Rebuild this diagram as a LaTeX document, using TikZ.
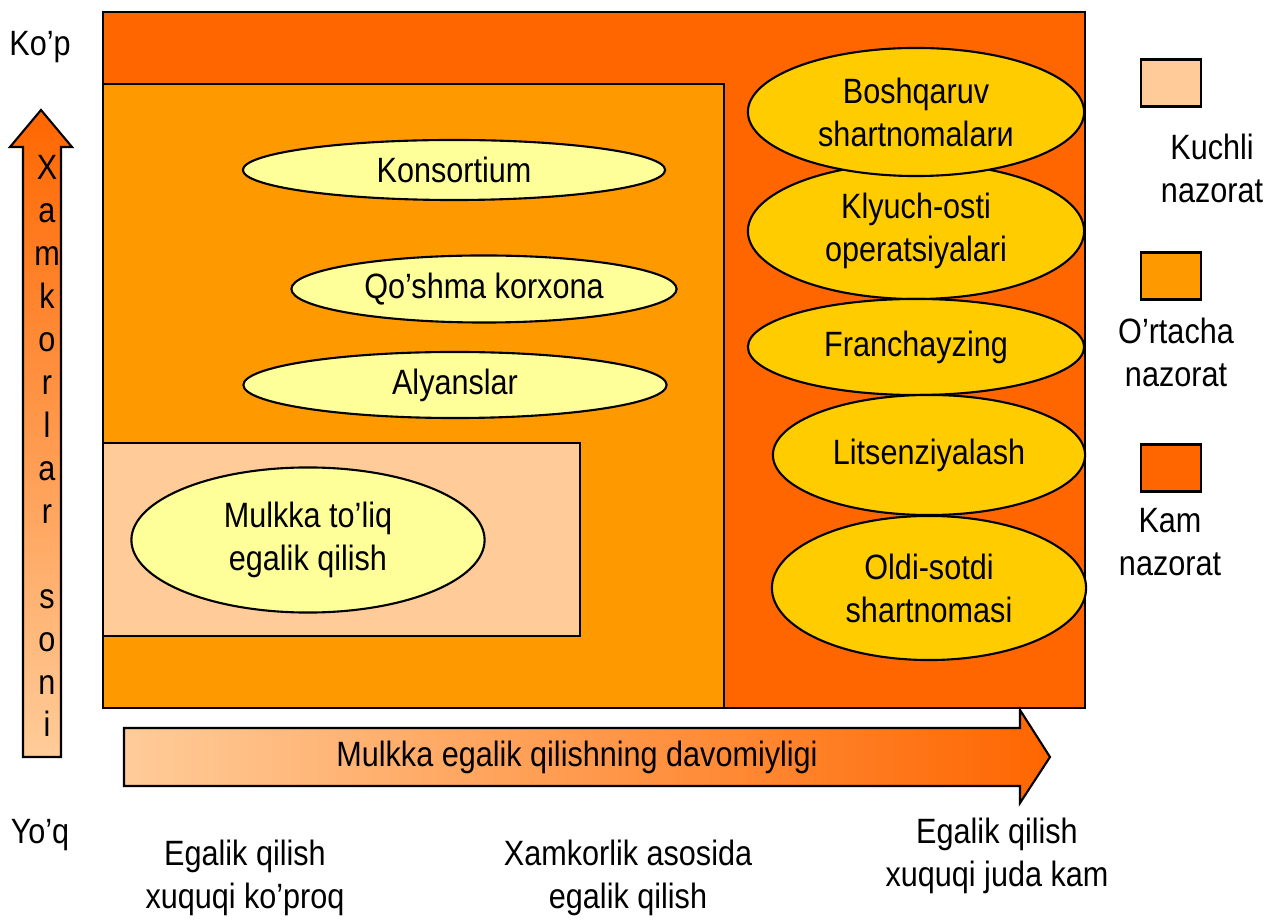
\documentclass[tikz,border=0pt]{standalone}
\usepackage{fontspec}
\setmainfont[FakeStretch=0.87]{Liberation Sans}
\usetikzlibrary{shapes.geometric}
\definecolor{kamnaz}{HTML}{FF6600}
\definecolor{ortanaz}{HTML}{FF9900}
\definecolor{kuchnaz}{HTML}{FFCC99}
\definecolor{ovalyel}{HTML}{FFFF99}
\definecolor{ovalgold}{HTML}{FFCC00}

\begin{document}
\begin{tikzpicture}[x=0.01cm,y=-0.01cm]

\tikzset{zone/.style = {draw,line width=0.6pt}}
\tikzset{oval/.style = {shape=ellipse,draw,line width=0.6pt,inner sep=0pt,align=center,font=\fontsize{10}{12.2}\selectfont}}
\tikzset{lbl/.style = {align=center,inner sep=0pt,font=\fontsize{10}{12.2}\selectfont}}
\tikzset{legbox/.style = {draw,line width=0.6pt,minimum width=0.6cm,minimum height=0.47cm,inner sep=0pt}}

\useasboundingbox (0,0) rectangle (1267,922);

% control zones
\draw[zone,fill=kamnaz] (103,12) rectangle (1085,708);
\draw[zone,fill=ortanaz] (103,84) rectangle (724,708);
\draw[zone,fill=kuchnaz] (103,443) rectangle (580,636);

% ellipses, left part
\node[oval,fill=ovalyel,minimum width=4.22cm,minimum height=0.6cm] (kons) at (454,170) {Konsortium};
\node[oval,fill=ovalyel,minimum width=3.85cm,minimum height=0.67cm] (qoshma) at (484,289) {Qo’shma korxona};
\node[oval,fill=ovalyel,minimum width=4.23cm,minimum height=0.66cm] (alyans) at (455,385) {Alyanslar};
\node[oval,fill=ovalyel,minimum width=3.53cm,minimum height=1.45cm] (mulk) at (308,540) {Mulkka to’liq\\egalik qilish};

% ellipses, right part
\node[oval,fill=ovalgold,minimum width=3.36cm,minimum height=1.36cm] (klyuch) at (916,231) {Klyuch-osti\\operatsiyalari};
\node[oval,fill=ovalgold,minimum width=3.36cm,minimum height=1.28cm] (bosh) at (916,112) {Boshqaruv\\shartnomalarи};
\node[oval,fill=ovalgold,minimum width=3.36cm,minimum height=0.96cm] (franch) at (916,347) {Franchayzing};
\node[oval,fill=ovalgold,minimum width=3.12cm,minimum height=1.2cm] (litsen) at (929,455) {Litsenziyalash};
\node[oval,fill=ovalgold,minimum width=3.14cm,minimum height=1.44cm] (oldi) at (929,588) {Oldi-sotdi\\shartnomasi};

% arrows
\draw[zone,top color=kamnaz,bottom color=kuchnaz] (23,757) -- (23,147) -- (10,147) -- (41,110)
  -- (72,147) -- (61,147) -- (61,757) -- cycle;
\draw[zone,left color=kuchnaz,right color=kamnaz] (124,728) -- (1020,728) -- (1020,710) -- (1050,757)
  -- (1020,803) -- (1020,786) -- (124,786) -- cycle;
\node[lbl,anchor=north] (xamk) at (47,155) {X\\a\\m\\k\\o\\r\\l\\a\\r\\[12pt]s\\o\\n\\i};
\node[lbl] (davom) at (577,757) {Mulkka egalik qilishning davomiyligi};

% axis labels
\node[lbl] (kop) at (40,47) {Ko’p};
\node[lbl] (yoq) at (40,835) {Yo’q};
\node[lbl] (chap) at (245,878) {Egalik qilish\\xuquqi ko’proq};
\node[lbl] (orta) at (628,878) {Xamkorlik asosida\\egalik qilish};
\node[lbl] (ong) at (997,856) {Egalik qilish\\xuquqi juda kam};

% legend
\node[legbox,fill=kuchnaz] (lkuch) at (1171,83) {};
\node[legbox,fill=ortanaz] (lorta) at (1171,276) {};
\node[legbox,fill=kamnaz] (lkam) at (1171,468) {};
\node[lbl] (tkuch) at (1212,168) {Kuchli\\nazorat};
\node[lbl] (torta) at (1176,352) {O’rtacha\\nazorat};
\node[lbl] (tkam) at (1170,542) {Kam\\nazorat};

\end{tikzpicture}
\end{document}
